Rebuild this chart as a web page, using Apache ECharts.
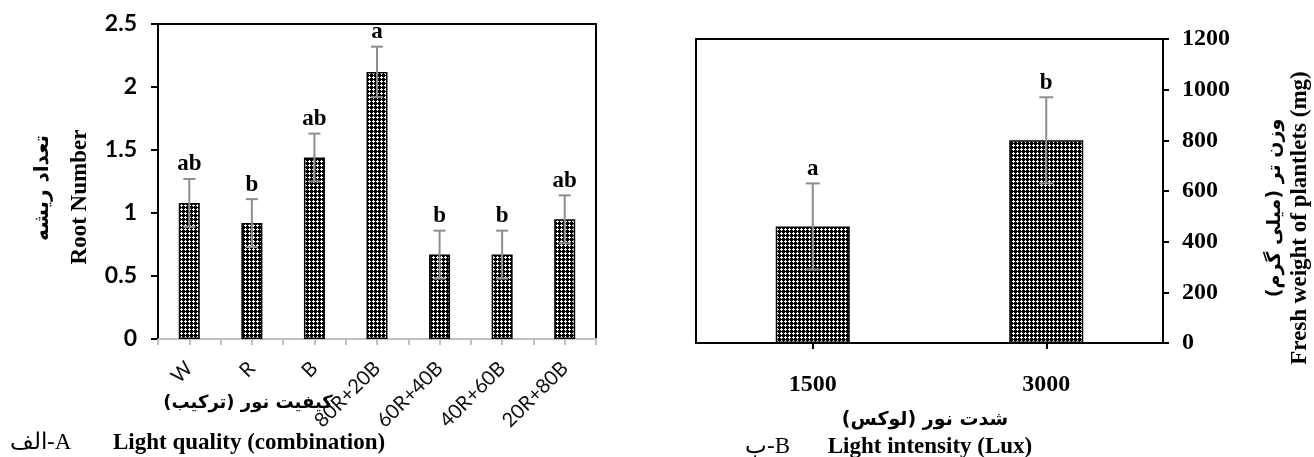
<!DOCTYPE html>
<html><head><meta charset="utf-8">
<script src="https://cdn.jsdelivr.net/npm/echarts@6/dist/echarts.min.js"></script>
<style>html,body{margin:0;padding:0;background:#fff}#c{width:1314px;height:457px}</style>
</head><body><div id="c"></div>
<script>
// ---- data ----
const qualityCategories = ['W', 'R', 'B', '80R+20B', '60R+40B', '40R+60B', '20R+80B'];
const rootNumber = [1.08, 0.92, 1.44, 2.12, 0.67, 0.67, 0.95];
const rootNumberErr = [0.19, 0.19, 0.19, 0.2, 0.19, 0.19, 0.19];
const rootLetters = ['ab', 'b', 'ab', 'a', 'b', 'b', 'ab'];
const rootAxis = { min: 0, max: 2.5, interval: 0.5 };

const intensityCategories = ['1500', '3000'];
const freshWeight = [460, 800];
const freshWeightErr = [170, 170];
const weightLetters = ['a', 'b'];
const weightAxis = { min: 0, max: 1200, interval: 200 };

const texts = {
  rootTitleFa: 'تعداد ریشه',
  rootTitleEn: 'Root Number',
  qualityTitleFa: 'کیفیت نور (ترکیب)\u200F',
  qualityTitleEn: 'Light quality (combination)',
  panelA: 'الف-A',
  weightTitleFa: 'وزن تر (میلی گرم)\u200F',
  weightTitleEn: 'Fresh weight of plantlets (mg)',
  intensityTitleFa: 'شدت نور (لوکس)\u200F',
  intensityTitleEn: 'Light intensity (Lux)',
  panelB: 'ب-B'
};

// ---- styles ----
const SERIF = '"Liberation Serif", "Times New Roman", serif';
const SANS = 'Lato, "Open Sans", sans-serif';
const FA = '"DejaVu Sans", sans-serif';
const ERR_COLOR = '#8e8e8e';

function makePattern() {
  const c = document.createElement('canvas');
  c.width = 4; c.height = 4;
  const g = c.getContext('2d');
  g.fillStyle = '#000'; g.fillRect(0, 0, 4, 4);
  g.fillStyle = '#fff';
  g.fillRect(1, 0, 1, 3);
  g.fillRect(0, 1, 3, 1);
  return c;
}
const pattern = makePattern();

function errRenderer(letters, capHalf, fontSize) {
  return function (params, api) {
    const i = api.value(0), v = api.value(1), e = api.value(2);
    const top = api.coord([i, v + e]);
    const bot = api.coord([i, v - e]);
    const st = { stroke: ERR_COLOR, lineWidth: 2 };
    return {
      type: 'group',
      children: [
        { type: 'line', shape: { x1: top[0], y1: top[1], x2: bot[0], y2: bot[1] }, style: st },
        { type: 'line', shape: { x1: top[0] - capHalf, y1: top[1], x2: top[0] + capHalf, y2: top[1] }, style: st },
        { type: 'line', shape: { x1: bot[0] - capHalf, y1: bot[1], x2: bot[0] + capHalf, y2: bot[1] }, style: st },
        { type: 'text', x: top[0], y: top[1] - 3,
          style: { text: letters[i], align: 'center', verticalAlign: 'bottom',
                   fontFamily: SERIF, fontWeight: 'bold', fontSize: fontSize, fill: '#000' } }
      ]
    };
  };
}

const blackLine = { show: true, onZero: false, lineStyle: { color: '#000', width: 2 } };
const halfTicks = [];
for (let k = 0; k < qualityCategories.length * 2; k++) halfTicks.push('');

const chart = echarts.init(document.getElementById('c'), null, { renderer: 'canvas' });
chart.setOption({
  backgroundColor: '#fff',
  animation: false,
  grid: [
    { left: 158, top: 24, width: 438, height: 315 },
    { left: 696, top: 39, width: 467, height: 304 }
  ],
  xAxis: [
    { gridIndex: 0, type: 'category', data: qualityCategories, position: 'bottom',
      axisLine: { show: true, onZero: false, lineStyle: { color: '#c0c0c0', width: 2 } },
      axisTick: { show: false },
      axisLabel: { interval: 0, rotate: 45, margin: 26, fontFamily: SANS, fontSize: 20, color: '#111' } },
    { gridIndex: 0, type: 'category', data: halfTicks, position: 'bottom',
      axisLine: { show: false, onZero: false },
      axisTick: { show: true, interval: 0, length: 6, lineStyle: { color: '#c0c0c0', width: 2 } },
      axisLabel: { show: false } },
    { gridIndex: 0, type: 'category', data: qualityCategories, position: 'top',
      axisLine: blackLine, axisTick: { show: false }, axisLabel: { show: false } },
    { gridIndex: 1, type: 'category', data: intensityCategories, position: 'bottom',
      axisLine: blackLine,
      axisTick: { show: true, alignWithLabel: true, length: 6, lineStyle: { color: '#000', width: 2 } },
      axisLabel: { margin: 30, fontFamily: SERIF, fontWeight: 'bold', fontSize: 24, color: '#000' } },
    { gridIndex: 1, type: 'category', data: intensityCategories, position: 'top',
      axisLine: blackLine, axisTick: { show: false }, axisLabel: { show: false } }
  ],
  yAxis: [
    { gridIndex: 0, type: 'value', position: 'left', min: rootAxis.min, max: rootAxis.max, interval: rootAxis.interval,
      axisLine: blackLine,
      axisTick: { show: true, length: 7, lineStyle: { color: '#000', width: 2 } },
      splitLine: { show: false },
      axisLabel: { margin: 21, fontFamily: SANS, fontWeight: 'bold', fontSize: 23, color: '#000' } },
    { gridIndex: 0, type: 'value', position: 'right', min: rootAxis.min, max: rootAxis.max,
      axisLine: blackLine, axisTick: { show: false }, axisLabel: { show: false }, splitLine: { show: false } },
    { gridIndex: 1, type: 'value', position: 'right', min: weightAxis.min, max: weightAxis.max, interval: weightAxis.interval,
      axisLine: blackLine,
      axisTick: { show: true, length: 6, lineStyle: { color: '#000', width: 2 } },
      splitLine: { show: false },
      axisLabel: { margin: 19, fontFamily: SERIF, fontWeight: 'bold', fontSize: 24, color: '#000',
                   formatter: function (v) { return String(v); } } },
    { gridIndex: 1, type: 'value', position: 'left', min: weightAxis.min, max: weightAxis.max,
      axisLine: blackLine, axisTick: { show: false }, axisLabel: { show: false }, splitLine: { show: false } }
  ],
  series: [
    { type: 'bar', xAxisIndex: 0, yAxisIndex: 0, data: rootNumber, barWidth: 21,
      itemStyle: { color: { image: pattern, repeat: 'repeat' }, borderColor: '#000', borderWidth: 1.5 } },
    { type: 'custom', xAxisIndex: 0, yAxisIndex: 0, z: 5,
      data: rootNumber.map((v, i) => [i, v, rootNumberErr[i]]),
      renderItem: errRenderer(rootLetters, 6, 23) },
    { type: 'bar', xAxisIndex: 3, yAxisIndex: 2, data: freshWeight, barWidth: 74,
      itemStyle: { color: { image: pattern, repeat: 'repeat' }, borderColor: '#000', borderWidth: 1.5 } },
    { type: 'custom', xAxisIndex: 3, yAxisIndex: 2, z: 5,
      data: freshWeight.map((v, i) => [i, v, freshWeightErr[i]]),
      renderItem: errRenderer(weightLetters, 7, 23) }
  ],
  graphic: [
    { type: 'text', x: 43, y: 188, rotation: Math.PI / 2,
      style: { text: texts.rootTitleFa, align: 'center', verticalAlign: 'middle', font: 'bold 20px ' + FA, fill: '#000' } },
    { type: 'text', x: 80, y: 197, rotation: Math.PI / 2,
      style: { text: texts.rootTitleEn, align: 'center', verticalAlign: 'middle', font: 'bold 23px ' + SERIF, fill: '#000' } },
    { type: 'text', x: 248, y: 403,
      style: { text: texts.qualityTitleFa, align: 'center', verticalAlign: 'middle', font: 'bold 18px ' + FA, fill: '#000' } },
    { type: 'text', x: 113, y: 443,
      style: { text: texts.qualityTitleEn, align: 'left', verticalAlign: 'middle', font: 'bold 23px ' + SERIF, fill: '#000' } },
    { type: 'text', x: 10, y: 443,
      style: { text: texts.panelA, align: 'left', verticalAlign: 'middle', font: '23px ' + SERIF, fill: '#000' } },
    { type: 'text', x: 1275, y: 208, rotation: Math.PI / 2,
      style: { text: texts.weightTitleFa, align: 'center', verticalAlign: 'middle', font: 'bold 19px ' + FA, fill: '#000' } },
    { type: 'text', x: 1300, y: 218, rotation: Math.PI / 2,
      style: { text: texts.weightTitleEn, align: 'center', verticalAlign: 'middle', font: 'bold 23px ' + SERIF, fill: '#000' } },
    { type: 'text', x: 925, y: 420,
      style: { text: texts.intensityTitleFa, align: 'center', verticalAlign: 'middle', font: 'bold 19px ' + FA, fill: '#000' } },
    { type: 'text', x: 930, y: 447,
      style: { text: texts.intensityTitleEn, align: 'center', verticalAlign: 'middle', font: 'bold 23px ' + SERIF, fill: '#000' } },
    { type: 'text', x: 790, y: 447,
      style: { text: texts.panelB, align: 'right', verticalAlign: 'middle', font: '23px ' + SERIF, fill: '#000' } }
  ]
});
</script>
</body></html>
